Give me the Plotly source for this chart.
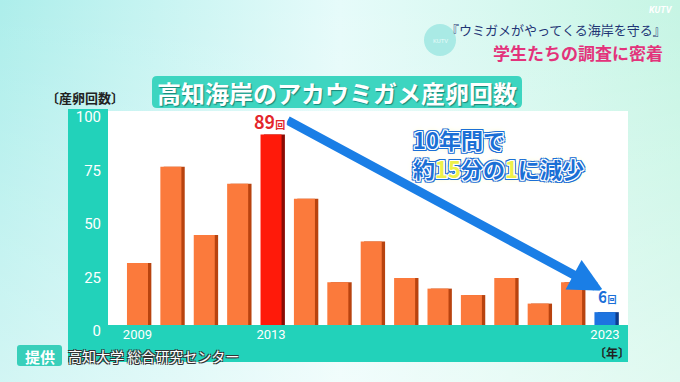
import base64
import plotly.graph_objects as go

# ---------------- data ----------------
years = list(range(2009, 2024))
counts = [29, 74, 42, 66, 89, 59, 20, 39, 22, 17, 14, 22, 10, 20, 6]
y_ticks = [0, 25, 50, 75, 100]
x_ticks = [2009, 2013, 2023]
peak_year = 2013
last_year = 2023

title_text = "高知海岸のアカウミガメ産卵回数"
y_title = "〔産卵回数〕"
x_title = "〔年〕"
msg_line1 = "10年間で"
msg_line2 = "約<span style='color:#eef04a'>15</span>分の<span style='color:#eef04a'>1</span>に減少"
head1 = "『ウミガメがやってくる海岸を守る』"
head2 = "学生たちの調査に密着"
credit_label = "提供"
credit_text = "高知大学 総合研究センター"

# ---------------- layout geometry ----------------
W, H = 680, 382
L, R, T, B = 108, 52, 111, 57
PW, PH = W - L - R, H - T - B


def px(x):
    return (x - L) / PW


def py(y):
    return (H - B - y) / PH


def rounded_rect(x0, y0, x1, y1, r):
    """Rounded rectangle path in paper coords from pixel corners."""
    X = lambda v: f"{px(v):.5f}"
    Y = lambda v: f"{py(v):.5f}"
    return " ".join([
        f"M {X(x0 + r)},{Y(y0)} L {X(x1 - r)},{Y(y0)} Q {X(x1)},{Y(y0)} {X(x1)},{Y(y0 + r)}",
        f"L {X(x1)},{Y(y1 - r)} Q {X(x1)},{Y(y1)} {X(x1 - r)},{Y(y1)}",
        f"L {X(x0 + r)},{Y(y1)} Q {X(x0)},{Y(y1)} {X(x0)},{Y(y1 - r)}",
        f"L {X(x0)},{Y(y0 + r)} Q {X(x0)},{Y(y0)} {X(x0 + r)},{Y(y0)} Z",
    ])


JP = "Noto Sans CJK JP"
ORANGE, ORANGE_D = "#fb7a3c", "#b8430f"
RED, RED_D = "#ff1a0a", "#8a0c05"
BLUE, BLUE_D = "#1d74e0", "#0c3b8c"
TEAL = "#22d2ba"

colors = [RED if y == peak_year else BLUE if y == last_year else ORANGE for y in years]
shadow = [RED_D if y == peak_year else BLUE_D if y == last_year else ORANGE_D for y in years]

bw = 0.63
fig = go.Figure()
fig.add_bar(x=years, y=counts, width=bw, offset=-bw / 2 + 0.1,
            marker=dict(color=shadow, line=dict(width=0)), hoverinfo="skip")
fig.add_bar(x=years, y=counts, width=bw, offset=-bw / 2,
            marker=dict(color=colors, line=dict(width=0)))

# background gradient as svg image
svg = f'''<svg xmlns="http://www.w3.org/2000/svg" width="{W}" height="{H}">
<defs><linearGradient id="g" x1="0" y1="0" x2="1" y2="0">
<stop offset="0" stop-color="#adeeeb"/><stop offset="0.5" stop-color="#e6fbfa"/>
<stop offset="1" stop-color="#c6f5e4"/></linearGradient>
<linearGradient id="v" x1="0" y1="0" x2="0" y2="1">
<stop offset="0" stop-color="#ffffff" stop-opacity="0"/><stop offset="1" stop-color="#ffffff" stop-opacity="0.45"/></linearGradient></defs>
<rect width="{W}" height="{H}" fill="url(#g)"/><rect width="{W}" height="{H}" fill="url(#v)"/></svg>'''
src = "data:image/svg+xml;base64," + base64.b64encode(svg.encode()).decode()

shapes = [
    dict(type="rect", xref="paper", yref="paper", x0=0, x1=1, y0=0, y1=1,
         fillcolor="white", line=dict(width=0), layer="below"),
    dict(type="rect", xref="paper", yref="paper", x0=px(68), x1=0, y0=py(362), y1=py(109),
         fillcolor=TEAL, line=dict(width=0), layer="below"),
    dict(type="rect", xref="paper", yref="paper", x0=px(68), x1=1, y0=py(362), y1=0,
         fillcolor=TEAL, line=dict(width=0), layer="below"),
    dict(type="path", xref="paper", yref="paper", path=rounded_rect(152, 76, 522, 108, 5),
         fillcolor="#3dd5c0", line=dict(width=0), layer="below"),
    dict(type="circle", xref="paper", yref="paper", x0=px(424), x1=px(456), y0=py(56), y1=py(24),
         fillcolor="#a9eae5", line=dict(width=0), layer="below"),
    dict(type="path", xref="paper", yref="paper", path=rounded_rect(17, 345, 62, 366, 3),
         fillcolor="#38cfba", line=dict(width=0), layer="below"),
]

white_outline = "1px 1px 0 #fff, -1px -1px 0 #fff, 1px -1px 0 #fff, -1px 1px 0 #fff, 0 2px 0 #fff, 2px 0 0 #fff, -2px 0 0 #fff, 0 -2px 0 #fff"
double_outline = ("1px 0 0 #fff, -1px 0 0 #fff, 0 1px 0 #fff, 0 -1px 0 #fff, "
                  "1px 1px 0 #fff, -1px -1px 0 #fff, 1px -1px 0 #fff, -1px 1px 0 #fff, "
                  "2px 0 0 #1b6fd6, -2px 0 0 #1b6fd6, 0 2px 0 #1b6fd6, 0 -2px 0 #1b6fd6, "
                  "2px 2px 0 #1b6fd6, -2px -2px 0 #1b6fd6, 2px -2px 0 #1b6fd6, -2px 2px 0 #1b6fd6, "
                  "0 0 6px #f7f3a0")
dark_outline = "1px 1px 0 #333, -1px -1px 0 #333, 1px -1px 0 #333, -1px 1px 0 #333"

peak_val = counts[years.index(peak_year)]
last_val = counts[years.index(last_year)]


def ptext(x, y, text, font, xanchor="center", align="center"):
    return dict(xref="paper", yref="paper", x=px(x), y=py(y), text=text, showarrow=False,
                xanchor=xanchor, yanchor="middle", align=align, font=font)


annotations = [
    ptext(337, 92, f"<b>{title_text}</b>",
          dict(family=JP, size=24, color="white", shadow="1px 1px 1px rgba(0,80,70,0.6)")),
    ptext(85, 98, f"<b>{y_title}</b>", dict(family=JP, size=13, color="#222")),
    ptext(612, 352, f"<b>{x_title}</b>", dict(family=JP, size=12, color="#222")),
    dict(x=last_year - 0.05, y=last_val + 10, ax=peak_year + 0.45, ay=peak_val + 7,
         xref="x", yref="y", axref="x", ayref="y", text="", showarrow=True,
         arrowhead=2, arrowsize=0.75, arrowwidth=9, arrowcolor="#1a7ee6", standoff=0, startstandoff=0),
    dict(x=peak_year - 0.05, y=peak_val, xref="x", yref="y", yanchor="bottom", xanchor="center", yshift=-1,
         text="<b>89<span style='font-size:10px'>回</span></b>", showarrow=False,
         font=dict(family=JP, size=18, color="#e3262b", shadow=white_outline)),
    dict(x=last_year + 0.05, y=last_val, xref="x", yref="y", yanchor="bottom", xanchor="center", yshift=2,
         text="<b>6<span style='font-size:9px'>回</span></b>", showarrow=False,
         font=dict(family=JP, size=16, color="#1a6fd8", shadow=white_outline)),
    ptext(411, 153, f"<b>{msg_line1}<br>{msg_line2}</b>",
          dict(family=JP, size=22, color="#1b6fd6", shadow=double_outline),
          xanchor="left", align="left"),
    ptext(668, 30, head1, dict(family=JP, size=13, color="#1f3575"), xanchor="right"),
    ptext(665, 52, f"<b>{head2}</b>", dict(family=JP, size=17, color="#e3337b"), xanchor="right"),
    ptext(440, 40, "KUTV", dict(family="Roboto", size=6, color="#e8fbfa")),
    ptext(675, 10, "<b><i>KUTV</i></b>", dict(family="Roboto", size=9, color="white"), xanchor="right"),
    ptext(40, 356, f"<b>{credit_label}</b>", dict(family=JP, size=15, color="white")),
    ptext(66, 356, credit_text, dict(family=JP, size=14, color="white", shadow=dark_outline), xanchor="left"),
]

fig.update_layout(
    width=W, height=H, margin=dict(l=L, r=R, t=T, b=B),
    barmode="overlay", showlegend=False,
    paper_bgcolor="#dff8f6", plot_bgcolor="rgba(0,0,0,0)",
    images=[dict(source=src, xref="paper", yref="paper", x=px(0), y=py(0),
                 sizex=W / PW, sizey=H / PH, xanchor="left", yanchor="top",
                 sizing="stretch", layer="below")],
    shapes=shapes, annotations=annotations,
    xaxis=dict(range=[2008.117, 2023.69], tickvals=x_ticks, showgrid=False, zeroline=False,
               showline=False, ticks="", tickfont=dict(family="Roboto", size=13, color="white")),
    yaxis=dict(range=[0, 100], tickvals=y_ticks, showgrid=False, zeroline=False,
               showline=False, ticks="", ticklabelstandoff=6, ticklabelshift=6,
               tickfont=dict(family="Roboto", size=15, color="white")),
)

fig.write_html("out.html", config={"displayModeBar": False},
               post_script="document.body.style.margin='0';document.body.style.overflow='hidden';")
